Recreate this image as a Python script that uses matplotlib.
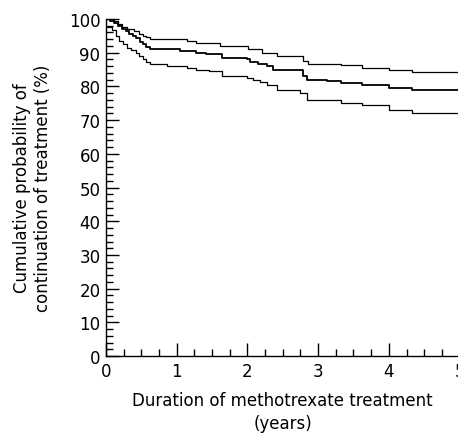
import numpy as np
import matplotlib.pyplot as plt
from matplotlib.ticker import MultipleLocator

# Kaplan-Meier estimate and 95% confidence limits
t_mid = [0, 0.06, 0.12, 0.17, 0.22, 0.28, 0.33, 0.38, 0.43, 0.48, 0.52, 0.56, 0.62,
         1.05, 1.28, 1.42, 1.64, 1.99, 2.04, 2.15, 2.27, 2.36, 2.79, 2.84, 3.12,
         3.33, 3.62, 4.0, 4.33, 5.0]
s_mid = [100, 99.5, 98.8, 98, 97, 96.3, 95.6, 95, 94.3, 93.3, 92.5, 91.8, 91,
         90.5, 90, 89.5, 88.5, 88, 87.3, 86.6, 86, 85, 83, 82, 81.5,
         81, 80.5, 79.5, 78.8, 78.8]

t_up = [0, 0.12, 0.17, 0.22, 0.3, 0.4, 0.46, 0.52, 0.57, 0.62, 1.14, 1.28, 1.61,
        2.01, 2.2, 2.42, 2.79, 2.85, 3.33, 3.62, 4.0, 4.33, 5.0]
s_up = [100, 99.3, 98.5, 97.5, 97, 96.3, 95.6, 95, 94.6, 94.2, 93.5, 93, 92,
        91, 90, 89, 87.5, 86.8, 86.3, 85.6, 85, 84.3, 84.3]

t_low = [0, 0.08, 0.14, 0.18, 0.24, 0.3, 0.36, 0.42, 0.47, 0.52, 0.57, 0.62, 0.86,
         1.14, 1.28, 1.45, 1.64, 1.99, 2.08, 2.18, 2.27, 2.42, 2.75, 2.84, 3.33,
         3.62, 4.0, 4.33, 5.0]
s_low = [97.5, 96.6, 95, 93.6, 92.5, 91.5, 90.8, 90, 89, 88.2, 87.3, 86.6, 86,
         85.5, 85, 84.5, 83, 82.5, 82, 81.2, 80.3, 79, 78, 76, 75,
         74.5, 73, 72, 72]

fig = plt.figure(figsize=(4.58, 4.35), dpi=100)
ax = fig.add_axes([0.2314, 0.179, 0.772, 0.775])

ax.step(t_up, s_up, where='post', color='black', lw=0.9)
ax.step(t_mid, s_mid, where='post', color='black', lw=1.3)
ax.step(t_low, s_low, where='post', color='black', lw=0.9)

ax.set_xlim(0, 5)
ax.set_ylim(0, 100)
ax.xaxis.set_major_locator(MultipleLocator(1))
ax.xaxis.set_minor_locator(MultipleLocator(0.25))
ax.yaxis.set_major_locator(MultipleLocator(10))
ax.yaxis.set_minor_locator(MultipleLocator(2))
ax.tick_params(which='both', direction='in', width=1.0, labelsize=12, pad=4)
ax.tick_params(which='major', length=9.5)
ax.tick_params(which='minor', length=5)

for side in ['top', 'right']:
    ax.spines[side].set_visible(False)
for side in ['left', 'bottom']:
    ax.spines[side].set_linewidth(1.0)

ax.set_xlabel('Duration of methotrexate treatment\n(years)', fontsize=12,
              labelpad=8, linespacing=1.35)
ax.set_ylabel('Cumulative probability of\ncontinuation of treatment (%)', fontsize=12,
              labelpad=12, linespacing=1.25)

fig.savefig('out.png', dpi=100)
